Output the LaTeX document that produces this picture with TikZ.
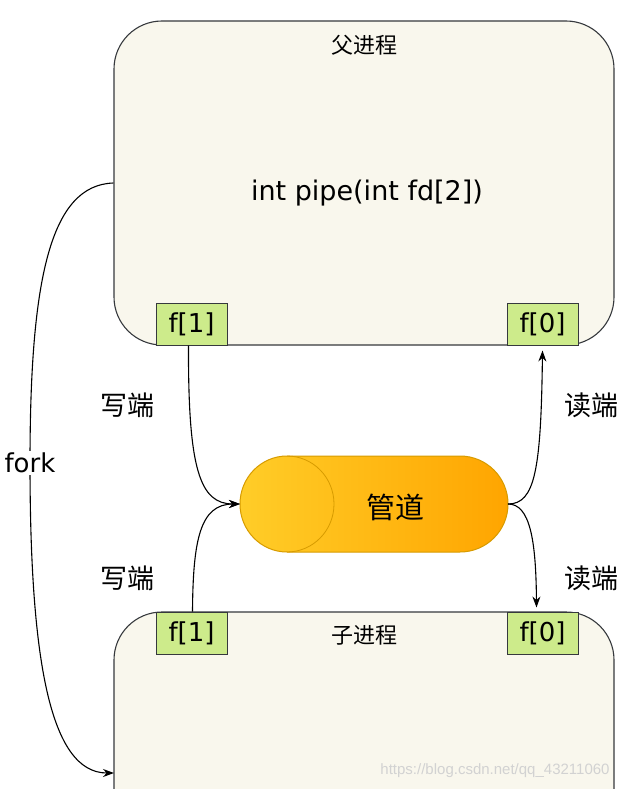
\documentclass[tikz,border=0pt]{standalone}
\usepackage{fontspec}
\setmainfont{DejaVu Sans}
\newfontfamily\cjk{Noto Sans CJK SC}
\newfontfamily\wmfont{Liberation Sans}
\usetikzlibrary{arrows.meta}
\definecolor{boxfill}{HTML}{F9F7ED}
\definecolor{boxline}{HTML}{36393D}
\definecolor{ffill}{HTML}{CDEB8B}
\definecolor{pipeA}{HTML}{FFCD28}
\definecolor{pipeB}{HTML}{FFA500}
\definecolor{pipeline}{HTML}{D79B00}
\begin{document}
\begin{tikzpicture}[x=1pt,y=-1pt,
  proc/.style={draw=boxline, fill=boxfill, line width=1.1pt, rounded corners=48pt, minimum width=500pt, inner sep=0pt},
  fdbox/.style={draw=boxline, fill=ffill, line width=1pt, minimum width=71pt, minimum height=42pt, inner sep=0pt, font=\fontsize{26}{30}\selectfont},
  lab/.style={font=\cjk\fontsize{27}{30}\selectfont, inner sep=0pt},
  ptitle/.style={font=\cjk\fontsize{22}{26}\selectfont, inner sep=0pt},
  conn/.style={line width=1.1pt, -{Stealth[length=11pt,width=8pt]}}]
\useasboundingbox (0,0) rectangle (628,789);
\begin{scope}
  \clip (0,0) rectangle (628,789);
  \node[proc, minimum height=324pt] (parent) at (364,183) {};
  \node[proc, minimum height=400pt] (child) at (364,812) {};
\end{scope}
\node[ptitle] (ptl) at (364,45) {父进程};
\node[font=\fontsize{27}{32}\selectfont, inner sep=0pt] (call) at (367,193) {int pipe(int fd[2])};
\node[fdbox] (pw) at (191.5,324) {f[1]};
\node[fdbox] (pr) at (542.5,324) {f[0]};
\node[fdbox] (cw) at (191.5,633) {f[1]};
\node[fdbox] (cr) at (542.5,633) {f[0]};
\node[ptitle] (ctl) at (364,635) {子进程};
% pipe
\shadedraw[left color=pipeA, right color=pipeB, draw=pipeline, line width=1pt]
  (287,456) -- (460,456) arc[start angle=-90,end angle=90,radius=48]
  -- (287,552) arc[start angle=90,end angle=270,x radius=47,y radius=48] -- cycle;
\draw[pipeline, line width=0.8pt] (287,456) arc[start angle=-90,end angle=90,x radius=47,y radius=48];
\node[font=\cjk\fontsize{29}{32}\selectfont, inner sep=0pt] (pipe) at (395,507) {管道};
\coordinate (pin) at (240,504);
\coordinate (pout) at (508,504);
\coordinate (forkend) at (114,773);
% connectors
\draw[conn] ([xshift=-3pt]pw.south) .. controls (188,470) and (200,504) .. (pin);
\draw[conn] ([xshift=1pt]cw.north) .. controls (193,540) and (200,504) .. (pin);
\draw[conn] (pout) .. controls (535,504) and (541,470) .. ([yshift=-5pt]pr.south);
\draw[conn] (pout) .. controls (530,504) and (536,540) .. ([xshift=-6pt,yshift=4pt]cr.north);
\draw[conn] (parent.west) .. controls (50,185) and (30,280) .. (30,463)
  node[fill=white, inner sep=2pt, font=\fontsize{26}{30}\selectfont] (forklab) {fork}
  .. controls (30,660) and (50,773) .. (forkend);
% labels
\node[lab] (w1) at (127,405) {写端};
\node[lab] (w2) at (127,578) {写端};
\node[lab] (r1) at (591,405) {读端};
\node[lab] (r2) at (591,578) {读端};
\node[font=\wmfont\fontsize{15}{18}\selectfont, text=gray!35, inner sep=0pt] (wm) at (495,771) {https://blog.csdn.net/qq\_43211060};
\end{tikzpicture}
\end{document}
